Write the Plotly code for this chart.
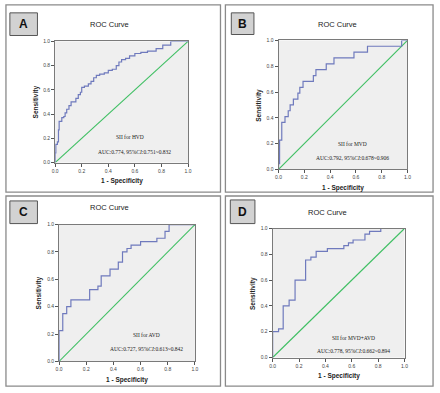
import plotly.graph_objects as go

W, H = 440, 393

# ---- data ----
fpr_A = [0, 0, 0.005, 0.017, 0.025, 0.03, 0.05, 0.065, 0.075, 0.087, 0.104, 0.12, 0.156, 0.174, 0.19, 0.2,
         0.22, 0.25, 0.27, 0.29, 0.31, 0.335, 0.37, 0.4, 0.43, 0.46, 0.48, 0.5, 0.53, 0.56, 0.6, 0.645,
         0.695, 0.76, 0.81, 0.87, 1.0]
tpr_A = [0, 0.08, 0.15, 0.17, 0.27, 0.34, 0.37, 0.38, 0.41, 0.44, 0.47, 0.5, 0.53, 0.56, 0.58, 0.62,
         0.63, 0.65, 0.67, 0.7, 0.72, 0.73, 0.74, 0.76, 0.77, 0.8, 0.83, 0.85, 0.86, 0.88, 0.9, 0.91,
         0.92, 0.94, 0.97, 1.0, 1.0]

fpr_B = [0, 0, 0.008, 0.025, 0.05, 0.075, 0.09, 0.115, 0.15, 0.165, 0.19, 0.27, 0.29, 0.37, 0.43,
         0.585, 0.69, 0.955, 1.0]
tpr_B = [0, 0.045, 0.227, 0.364, 0.409, 0.455, 0.5, 0.545, 0.591, 0.636, 0.682, 0.727, 0.773, 0.818,
         0.864, 0.909, 0.955, 1.0, 1.0]

fpr_C = [0, 0, 0.027, 0.056, 0.087, 0.225, 0.286, 0.31, 0.375, 0.436, 0.467, 0.5, 0.53, 0.6, 0.72,
         0.78, 0.81, 1.0]
tpr_C = [0, 0.225, 0.35, 0.4, 0.45, 0.525, 0.55, 0.625, 0.675, 0.725, 0.8, 0.825, 0.85, 0.875, 0.9,
         0.95, 1.0, 1.0]

fpr_D = [0, 0, 0.045, 0.08, 0.125, 0.17, 0.25, 0.29, 0.33, 0.415, 0.54, 0.575, 0.61, 0.7, 0.735,
         0.82, 1.0]
tpr_D = [0, 0.2, 0.222, 0.4, 0.444, 0.6, 0.756, 0.778, 0.822, 0.844, 0.867, 0.889, 0.911, 0.956,
         0.978, 1.0, 1.0]

panel_letters = ["A", "B", "C", "D"]
chart_title = "ROC Curve"
curve_labels = ["SII for HVD", "SII for MVD", "SII for AVD", "SII for MVD+AVD"]
auc_texts = ["AUC:0.774, 95%<i>CI</i>:0.751~0.832",
             "AUC:0.792, 95%<i>CI</i>:0.678~0.906",
             "AUC:0.727, 95%<i>CI</i>:0.613~0.842",
             "AUC:0.778, 95%<i>CI</i>:0.662~0.894"]
tick_vals = [0, 0.2, 0.4, 0.6, 0.8, 1.0]
tick_text = ["0.0", "0.2", "0.4", "0.6", "0.8", "1.0"]
x_title = "1 - Specificity"
y_title = "Sensitivity"

series = [(fpr_A, tpr_A), (fpr_B, tpr_B), (fpr_C, tpr_C), (fpr_D, tpr_D)]

# ---- layout geometry (pixels) ----
panels = [(3, 2, 221, 192), (226, 2, 437, 192), (3, 196, 221, 389), (226, 196, 437, 389)]
plots = [(53, 39, 188, 162), (280, 38, 411, 169), (57, 225, 195, 364), (274, 229, 408, 360)]
letter_boxes = [(7, 10, 35, 33), (232, 10, 255, 32), (7, 201, 35, 224), (231, 200, 256, 224)]
title_pos = [(108, 22), (340, 22), (108, 208), (330, 213)]
label_pos = [(0.56, 0.21), (0.57, 0.2), (0.64, 0.19), (0.61, 0.15)]
auc_pos = [(0.6, 0.09), (0.57, 0.09), (0.64, 0.09), (0.61, 0.05)]

def px(x):
    return x / W

def py(y):
    return 1 - y / H

fig = go.Figure()
shapes = []
annotations = []
layout = {}

for i, (fpr, tpr) in enumerate(series):
    n = "" if i == 0 else str(i + 1)
    xa, ya = "x" + n, "y" + n
    x0, y0, x1, y1 = plots[i]
    axis_common = dict(range=[0, 1], showgrid=False, zeroline=False, showline=True, mirror=True,
                       linecolor="#7a7a7a", linewidth=1, ticks="outside", ticklen=3,
                       tickcolor="#555555", tickwidth=1, tickvals=tick_vals, ticktext=tick_text,
                       tickfont=dict(size=5, color="#444444", family="Liberation Sans"),
                       fixedrange=True)
    layout["xaxis" + n] = dict(domain=[px(x0), px(x1)], anchor=ya, **axis_common)
    layout["yaxis" + n] = dict(domain=[py(y1), py(y0)], anchor=xa, **axis_common)

    fig.add_trace(go.Scatter(x=[0, 1], y=[0, 1], mode="lines", xaxis=xa, yaxis=ya,
                             line=dict(color="#3fbf63", width=1.1), showlegend=False, hoverinfo="skip"))
    fig.add_trace(go.Scatter(x=fpr, y=tpr, mode="lines", xaxis=xa, yaxis=ya, line_shape="hv",
                             line=dict(color="#6f7abd", width=1.2), showlegend=False))

    # panel border
    bx0, by0, bx1, by1 = panels[i]
    shapes.append(dict(type="rect", xref="paper", yref="paper", x0=px(bx0), x1=px(bx1),
                       y0=py(by1), y1=py(by0), line=dict(color="#8a8a8a", width=1.3),
                       fillcolor="rgba(0,0,0,0)", layer="below"))
    # letter box
    lx0, ly0, lx1, ly1 = letter_boxes[i]
    shapes.append(dict(type="rect", xref="paper", yref="paper", x0=px(lx0), x1=px(lx1),
                       y0=py(ly1), y1=py(ly0), line=dict(color="#555555", width=1),
                       fillcolor="#d2d2d2", layer="below"))
    annotations.append(dict(text="<b>" + panel_letters[i] + "</b>", xref="paper", yref="paper",
                            x=px((lx0 + lx1) / 2), y=py((ly0 + ly1) / 2), showarrow=False,
                            xanchor="center", yanchor="middle",
                            font=dict(size=12, color="#111111", family="Liberation Sans")))
    # title
    tx, ty = title_pos[i]
    annotations.append(dict(text=chart_title, xref="paper", yref="paper", x=px(tx), y=py(ty),
                            showarrow=False, xanchor="center", yanchor="middle",
                            font=dict(size=7.5, color="#222222", family="Liberation Sans")))
    # axis titles
    annotations.append(dict(text="<b>" + x_title + "</b>", xref="paper", yref="paper",
                            x=px((x0 + x1) / 2), y=py(y1 + 19), showarrow=False,
                            xanchor="center", yanchor="middle",
                            font=dict(size=6.5, color="#222222", family="Liberation Sans")))
    annotations.append(dict(text="<b>" + y_title + "</b>", xref="paper", yref="paper",
                            x=px(x0 - 20), y=py((y0 + y1) / 2), showarrow=False, textangle=-90,
                            xanchor="center", yanchor="middle",
                            font=dict(size=6.5, color="#222222", family="Liberation Sans")))
    # curve labels
    cx, cy = label_pos[i]
    annotations.append(dict(text=curve_labels[i], xref=xa, yref=ya, x=cx, y=cy, showarrow=False,
                            xanchor="center", yanchor="middle",
                            font=dict(size=5.5, color="#222222", family="Liberation Serif")))
    ax_, ay_ = auc_pos[i]
    annotations.append(dict(text=auc_texts[i], xref=xa, yref=ya, x=ax_, y=ay_, showarrow=False,
                            xanchor="center", yanchor="middle",
                            font=dict(size=5.5, color="#222222", family="Liberation Serif")))

fig.update_layout(width=W, height=H, margin=dict(l=0, r=0, t=0, b=0),
                  paper_bgcolor="white", plot_bgcolor="#efefef",
                  shapes=shapes, annotations=annotations, **layout)

fig.write_html("out.html", config={"displayModeBar": False},
               post_script="document.body.style.margin='0';document.body.style.overflow='hidden';")
